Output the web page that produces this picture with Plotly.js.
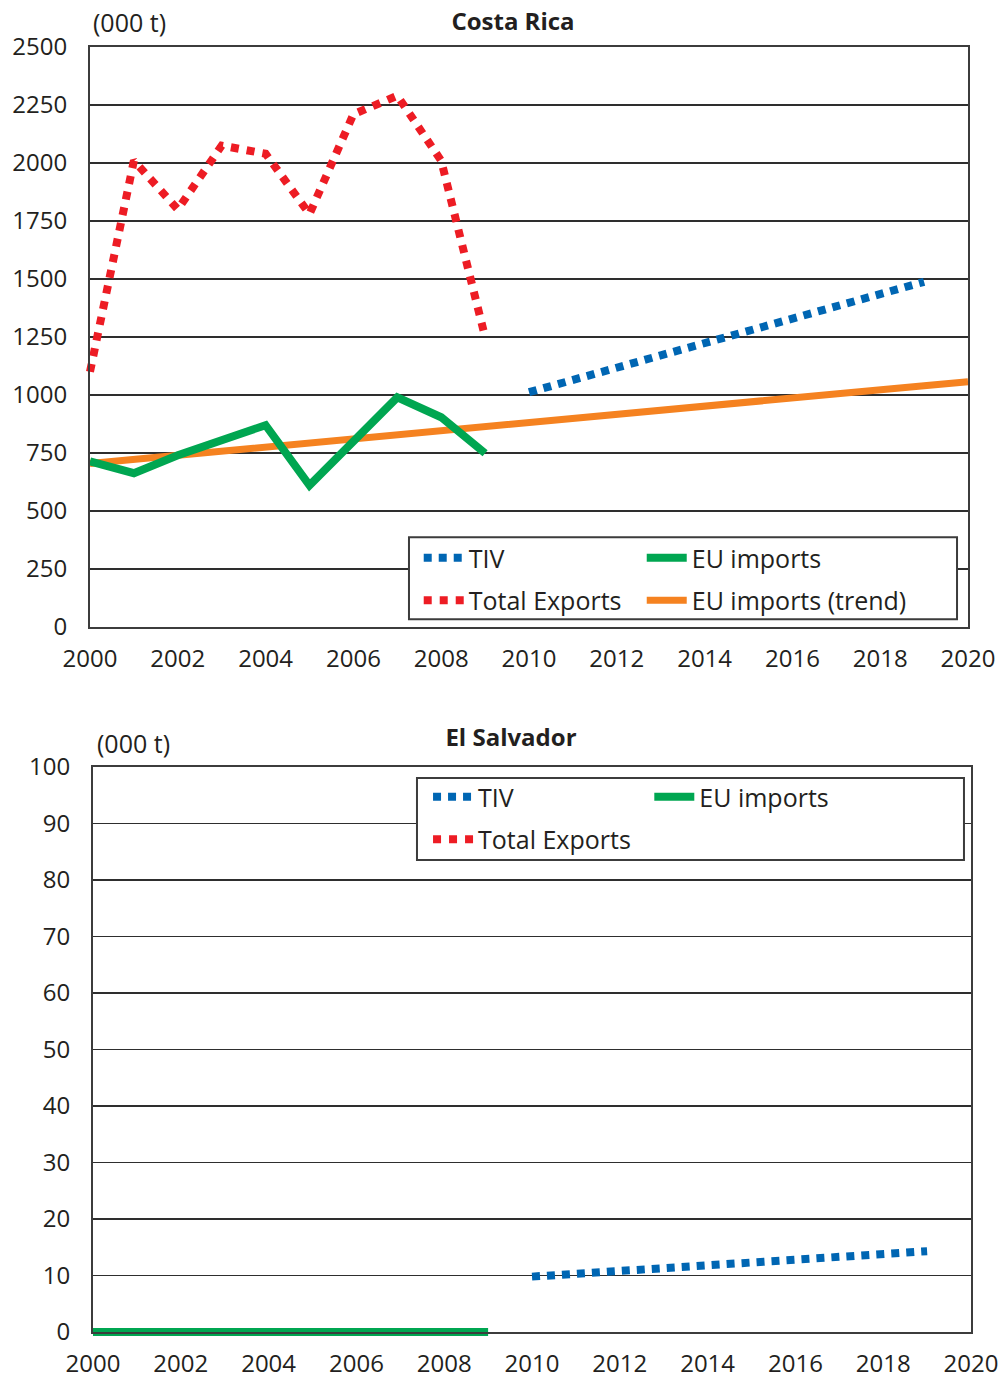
<!DOCTYPE html>
<html>
<head>
<meta charset="utf-8">
<script src="https://cdn.plot.ly/plotly-3.0.1.min.js"></script>
<style>
  html, body { margin: 0; padding: 0; background: #fff; }
  #top { position: absolute; left: 0; top: 0; width: 1000px; height: 690px; }
  #bottom { position: absolute; left: 0; top: 690px; width: 1000px; height: 688px; }
</style>
</head>
<body>
<div id="top"></div>
<div id="bottom"></div>
<script>
// ---------- data ----------
const years = [2000, 2001, 2002, 2003, 2004, 2005, 2006, 2007, 2008, 2009];
const trendYears = [2000, 2001, 2002, 2003, 2004, 2005, 2006, 2007, 2008, 2009, 2010,
                    2011, 2012, 2013, 2014, 2015, 2016, 2017, 2018, 2019, 2020];
const tivYears = [2010, 2011, 2012, 2013, 2014, 2015, 2016, 2017, 2018, 2019];

// Costa Rica (000 t)
const crTotalExports = [1100, 2010, 1800, 2075, 2040, 1780, 2210, 2290, 2010, 1250];
const crEuImports = [714, 663, 740, 805, 870, 611, 805, 990, 904, 749];
const crEuTrend = [705, 723, 740, 758, 775, 793, 811, 828, 846, 863, 881,
                   899, 916, 934, 951, 969, 987, 1004, 1022, 1040, 1057];
const crTiv = [1012, 1065, 1118, 1171, 1224, 1276, 1329, 1382, 1435, 1488];

// El Salvador (000 t)
const svEuImports = [0, 0, 0, 0, 0, 0, 0, 0, 0, 0];
const svTotalExports = [null, null, null, null, null, null, null, null, null, null];
const svTiv = [9.8, 10.3, 10.8, 11.3, 11.7, 12.2, 12.7, 13.2, 13.7, 14.3];

const xTicks = [2000, 2002, 2004, 2006, 2008, 2010, 2012, 2014, 2016, 2018, 2020];

// ---------- style ----------
const FONT = 'Open Sans, Liberation Sans, Arial, sans-serif';
const TXT = '#231f20';
const C_TIV = '#0066b3';
const C_EXP = '#ed1c24';
const C_EU = '#00a651';
const C_TREND = '#f58220';
const FRAME = '#3c3c3c';

function axisX() {
  return {
    range: [2000, 2020], tickvals: xTicks, showgrid: false, zeroline: false,
    showline: true, linecolor: FRAME, linewidth: 2, mirror: true,
    ticks: 'outside', ticklen: 9, tickcolor: 'rgba(0,0,0,0)',
    tickfont: {family: FONT, size: 24, color: TXT}, fixedrange: true
  };
}
function axisY(range, dtick) {
  return {
    range: range, dtick: dtick, tick0: 0, showgrid: true, gridcolor: '#2e2e2e', gridwidth: 1.4,
    zeroline: false, showline: true, linecolor: FRAME, linewidth: 2, mirror: true,
    ticks: 'outside', ticklen: 16, tickcolor: 'rgba(0,0,0,0)',
    tickfont: {family: FONT, size: 24, color: TXT}, fixedrange: true
  };
}
function legendAt(x, y) {
  return {
    x: x, y: y, xanchor: 'left', yanchor: 'top', xref: 'paper', yref: 'paper',
    orientation: 'v', bgcolor: 'rgba(0,0,0,0)', borderwidth: 0,
    font: {family: FONT, size: 25, color: TXT}, itemwidth: 40,
    tracegroupgap: 7, traceorder: 'grouped'
  };
}

// ---------- Costa Rica ----------
const topTraces = [
  {x: trendYears, y: crEuTrend, name: 'EU imports (trend)', mode: 'lines',
   line: {color: C_TREND, width: 7}, legend: 'legend2', legendgroup: 'd', legendrank: 4, cliponaxis: false},
  {x: years, y: crEuImports, name: 'EU imports', mode: 'lines',
   line: {color: C_EU, width: 8}, legend: 'legend2', legendgroup: 'c', legendrank: 3, cliponaxis: false},
  {x: years, y: crTotalExports, name: 'Total Exports', mode: 'lines',
   line: {color: C_EXP, width: 8, dash: '8px,8px'}, legend: 'legend', legendgroup: 'b', legendrank: 2, cliponaxis: false},
  {x: tivYears, y: crTiv, name: 'TIV', mode: 'lines',
   line: {color: C_TIV, width: 8, dash: '8px,7px'}, legend: 'legend', legendgroup: 'a', legendrank: 1, cliponaxis: false}
];

const topLayout = {
  width: 1000, height: 690,
  margin: {l: 90, r: 32, t: 47, b: 63, pad: 0},
  paper_bgcolor: '#fff', plot_bgcolor: '#fff',
  font: {family: FONT, color: TXT},
  title: {text: 'Costa Rica', font: {family: FONT, size: 24, color: TXT, weight: 'bold'},
          xref: 'container', yref: 'container', x: 0.513, y: 1 - 22 / 690, xanchor: 'center', yanchor: 'middle'},
  xaxis: axisX(),
  yaxis: axisY([0, 2500], 250),
  showlegend: true,
  legend: legendAt(0.3744, 0.1586),
  legend2: legendAt(0.6284, 0.1586),
  shapes: [{type: 'rect', xref: 'paper', yref: 'paper', x0: 0.3633, x1: 0.9875, y0: 0.0133, y1: 0.1547,
            fillcolor: '#fff', line: {color: FRAME, width: 2}, layer: 'above'}],
  annotations: [{text: '(000 t)', xref: 'paper', yref: 'paper', x: (91 - 90) / 878, y: 1 + (47 - 22) / 580,
                 xanchor: 'left', yanchor: 'middle', showarrow: false,
                 font: {family: FONT, size: 25, color: TXT}}]
};

// ---------- El Salvador ----------
const botTraces = [
  {x: years, y: svEuImports, name: 'EU imports', mode: 'lines',
   line: {color: C_EU, width: 8}, legend: 'legend2', legendgroup: 'c', legendrank: 3, cliponaxis: false},
  {x: years, y: svTotalExports, name: 'Total Exports', mode: 'lines',
   line: {color: C_EXP, width: 8, dash: '8px,8px'}, legend: 'legend', legendgroup: 'b', legendrank: 2, cliponaxis: false},
  {x: tivYears, y: svTiv, name: 'TIV', mode: 'lines',
   line: {color: C_TIV, width: 8, dash: '8px,7px'}, legend: 'legend', legendgroup: 'a', legendrank: 1, cliponaxis: false}
];

const botLayout = {
  width: 1000, height: 688,
  margin: {l: 93, r: 29, t: 77, b: 46, pad: 0},
  paper_bgcolor: '#fff', plot_bgcolor: '#fff',
  font: {family: FONT, color: TXT},
  title: {text: 'El Salvador', font: {family: FONT, size: 24, color: TXT, weight: 'bold'},
          xref: 'container', yref: 'container', x: 0.511, y: 1 - 48 / 688, xanchor: 'center', yanchor: 'middle'},
  xaxis: axisX(),
  yaxis: axisY([0, 100], 10),
  showlegend: true,
  legend: legendAt(0.3816, 0.9874),
  legend2: legendAt(0.6336, 0.9874),
  shapes: [{type: 'rect', xref: 'paper', yref: 'paper', x0: 0.369, x1: 0.992, y0: 0.8354, y1: 0.9805,
            fillcolor: '#fff', line: {color: FRAME, width: 2}, layer: 'above'}],
  annotations: [{text: '(000 t)', xref: 'paper', yref: 'paper', x: (95 - 93) / 878, y: 1 + (767 - 743) / 565,
                 xanchor: 'left', yanchor: 'middle', showarrow: false,
                 font: {family: FONT, size: 25, color: TXT}}]
};

// let the thick lines overflow the axes like the original
function unclip(id) {
  document.querySelectorAll('#' + id + ' .cartesianlayer [clip-path]').forEach(function (el) {
    if (el.closest('.xy') || el.classList.contains('plot')) el.removeAttribute('clip-path');
  });
  document.querySelectorAll('#' + id + ' .cartesianlayer .plot, #' + id + ' .cartesianlayer .scatterlayer, #' + id + ' .cartesianlayer .trace, #' + id + ' .cartesianlayer .js-line')
    .forEach(function (el) { el.removeAttribute('clip-path'); });
}

const cfg = {displayModeBar: false, staticPlot: true};
Plotly.newPlot('top', topTraces, topLayout, cfg).then(function () { unclip('top'); });
Plotly.newPlot('bottom', botTraces, botLayout, cfg).then(function () { unclip('bottom'); });
</script>
</body>
</html>
